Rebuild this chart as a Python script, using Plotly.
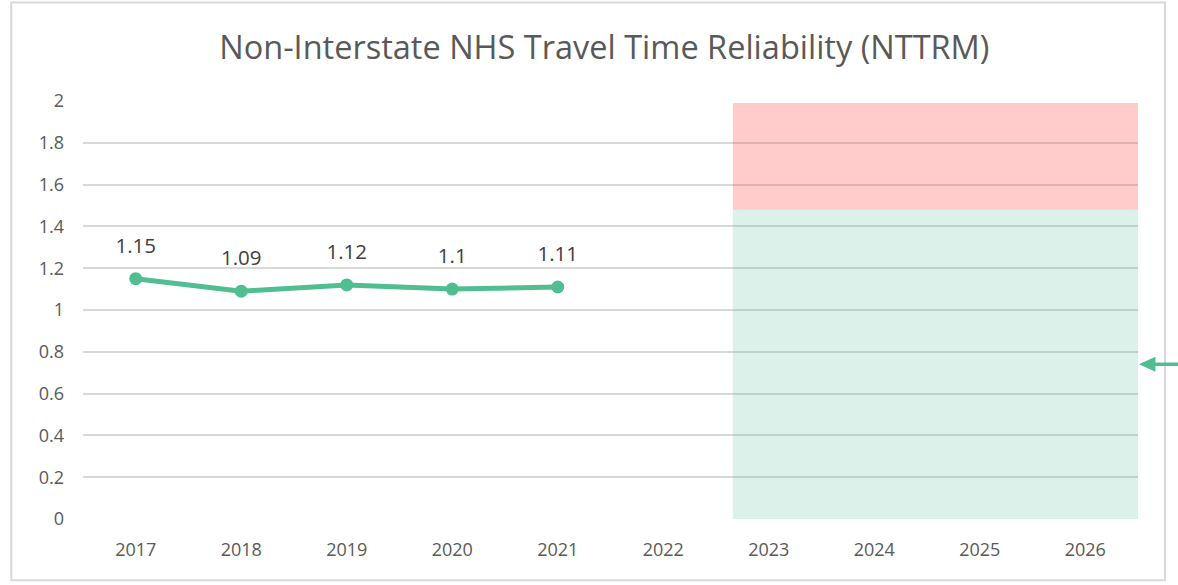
import plotly.graph_objects as go

categories = ["2017", "2018", "2019", "2020", "2021", "2022", "2023", "2024", "2025", "2026"]
years_actual = ["2017", "2018", "2019", "2020", "2021"]
nttrm_values = [1.15, 1.09, 1.12, 1.10, 1.11]
value_labels = ["1.15", "1.09", "1.12", "1.1", "1.11"]

target_x_start = 5.66   # category index where the target zone starts
target_x_end = 9.51
target_threshold = 1.48
zone_top = 1.99
arrow_value = 0.74

line_color = "rgb(80,190,145)"
text_color = "#595959"
label_color = "#404040"
grid_color = "#d9d9d9"
font_family = "Open Sans"

fig = go.Figure()

fig.add_trace(go.Scatter(x=categories, y=[None] * len(categories), mode="markers",
                         showlegend=False, hoverinfo="skip"))

fig.add_trace(go.Scatter(
    x=years_actual, y=nttrm_values, mode="lines+markers",
    line=dict(color=line_color, width=5),
    marker=dict(color=line_color, size=13),
    showlegend=False,
))

# data labels: invisible markers push the labels upward
fig.add_trace(go.Scatter(
    x=years_actual, y=nttrm_values, mode="markers+text", text=value_labels,
    textposition="top center",
    textfont=dict(size=20.5, color=label_color, family=font_family),
    marker=dict(size=32, opacity=0), showlegend=False, hoverinfo="skip",
))

# target zones
fig.add_shape(type="rect", xref="x", yref="y", x0=target_x_start, x1=target_x_end,
              y0=target_threshold, y1=zone_top, fillcolor="rgb(255,47,47)", opacity=0.25,
              line=dict(width=0), layer="above")
fig.add_shape(type="rect", xref="x", yref="y", x0=target_x_start, x1=target_x_end,
              y0=0, y1=target_threshold, fillcolor="rgb(80,185,145)", opacity=0.2,
              line=dict(width=0), layer="above")

# arrow at the right edge pointing to the target value
half_h = 0.036
fig.add_shape(type="line", xref="paper", yref="y", x0=1.014, x1=1.06,
              y0=arrow_value, y1=arrow_value, line=dict(color=line_color, width=3.5))
fig.add_shape(type="path", xref="paper", yref="y",
              path=f"M 1.0009,{arrow_value} L 1.0165,{arrow_value + half_h} "
                   f"L 1.0165,{arrow_value - half_h} Z",
              fillcolor=line_color, line=dict(width=0))

# outer chart border
fig.add_shape(type="rect", xref="paper", yref="paper", x0=-0.068, x1=1.0256,
              y0=-0.1466, y1=1.2356, line=dict(color=grid_color, width=2), layer="below")

fig.update_layout(
    width=1178, height=585,
    margin=dict(l=83, r=40, t=101, b=66),
    paper_bgcolor="white", plot_bgcolor="white",
    title=dict(text="Non-Interstate NHS Travel Time Reliability (NTTRM)",
               x=0.513, xanchor="center", y=0.918, yanchor="middle",
               font=dict(size=32.5, color=text_color, family=font_family)),
    font=dict(family=font_family, color=text_color),
    xaxis=dict(type="category", categoryorder="array", categoryarray=categories,
               range=[-0.5, 9.5], showgrid=False, showline=False, zeroline=False,
               tickfont=dict(size=18, color=text_color), ticks="", ticklabelstandoff=18),
    yaxis=dict(range=[0, 2], dtick=0.2, tick0=0, showgrid=True, gridcolor=grid_color,
               gridwidth=2, zeroline=False, showline=False,
               tickfont=dict(size=18, color=text_color), ticks="", ticklabelstandoff=18,
               tickformat="~g"),
)

fig.write_html("out.html", config={"displayModeBar": False},
               post_script="document.body.style.margin='0';")
